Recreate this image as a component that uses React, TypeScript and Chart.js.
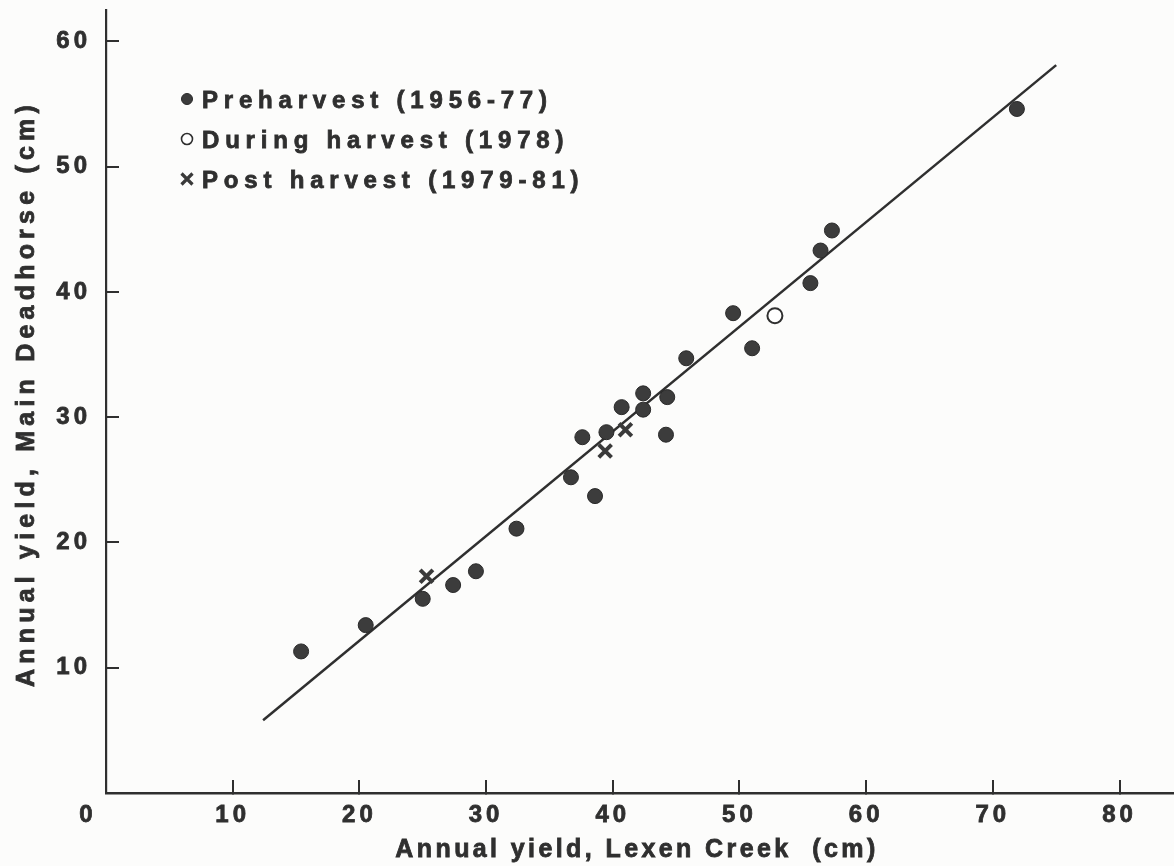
import React, { useEffect, useRef } from 'react';
import { Chart, registerables } from 'chart.js';

Chart.register(...registerables);

// ---- data ----
const preharvestX = [15.4, 20.5, 25.0, 27.4, 29.2, 32.4, 36.7, 37.6, 38.6, 39.5, 40.7, 42.4, 42.4, 44.3, 44.2, 45.8, 49.5, 51.0, 55.6, 56.4, 57.3, 71.9];
const preharvestY = [11.3, 13.4, 15.5, 16.6, 17.7, 21.1, 25.2, 28.4, 23.7, 28.8, 30.8, 31.9, 30.6, 31.6, 28.6, 34.7, 38.3, 35.5, 40.7, 43.3, 44.9, 54.6];

const duringX = [52.8];
const duringY = [38.1];

const postX = [25.3, 39.4, 41.0];
const postY = [17.3, 27.3, 29.0];

const fitLineX = [12.4, 75.0];
const fitLineY = [5.8, 58.1];

const seriesLabels = ['Preharvest (1956-77)', 'During harvest (1978)', 'Post harvest (1979-81)'];

const xTickValues = [10, 20, 30, 40, 50, 60, 70, 80];
const yTickValues = [10, 20, 30, 40, 50, 60];
const originLabel = '0';
const xTitle = 'Annual yield, Lexen Creek  (cm)';
const yTitle = 'Annual yield, Main Deadhorse (cm)';

const INK = '#2f2f2f';
const FONT = '"Liberation Sans", Arial, Helvetica, sans-serif';

const toPoints = (xs: number[], ys: number[]) => xs.map((x, i) => ({ x, y: ys[i] }));

function boldText(ctx: CanvasRenderingContext2D, text: string, x: number, y: number) {
  ctx.fillText(text, x, y);
  ctx.lineWidth = 0.8;
  ctx.strokeStyle = INK;
  ctx.strokeText(text, x, y);
}

function drawMarker(ctx: CanvasRenderingContext2D, ds: any, cx: number, cy: number) {
  ctx.save();
  const style = ds.pointStyle;
  if (style === 'crossRot') {
    const r = 5.5;
    ctx.strokeStyle = ds.borderColor;
    ctx.lineWidth = 3.2;
    ctx.beginPath();
    ctx.moveTo(cx - r, cy - r);
    ctx.lineTo(cx + r, cy + r);
    ctx.moveTo(cx + r, cy - r);
    ctx.lineTo(cx - r, cy + r);
    ctx.stroke();
  } else {
    ctx.beginPath();
    ctx.arc(cx, cy, 5.5, 0, Math.PI * 2);
    ctx.fillStyle = ds.backgroundColor;
    ctx.fill();
    ctx.strokeStyle = ds.borderColor;
    ctx.lineWidth = ds.backgroundColor === '#ffffff' ? 1.6 : 1;
    ctx.stroke();
  }
  ctx.restore();
}

export default function App() {
  const ref = useRef<HTMLCanvasElement>(null);

  useEffect(() => {
    const canvas = ref.current!;

    const decor = {
      id: 'decor',
      beforeDraw(chart: any) {
        const ctx = chart.ctx;
        ctx.save();
        ctx.fillStyle = '#fcfcfb';
        ctx.fillRect(0, 0, chart.width, chart.height);
        ctx.restore();
        ctx.letterSpacing = '4px';
      },
      afterDraw(chart: any) {
        const ctx = chart.ctx;
        const xs = chart.scales.x;
        const ys = chart.scales.y;
        ctx.save();
        ctx.fillStyle = INK;
        ctx.textAlign = 'center';
        ctx.textBaseline = 'middle';

        // origin label
        ctx.letterSpacing = '0px';
        ctx.font = `bold 24px ${FONT}`;
        boldText(ctx, originLabel, xs.left - 20, xs.top + 22);

        // x title
        ctx.letterSpacing = '3.4px';
        ctx.font = `bold 25px ${FONT}`;
        boldText(ctx, xTitle, (xs.left + xs.right) / 2 - 3, xs.top + 57);

        // y title
        ctx.save();
        ctx.letterSpacing = '5.2px';
        ctx.font = `bold 25px ${FONT}`;
        ctx.translate(27, (ys.top + ys.bottom) / 2 - 8);
        ctx.rotate(-Math.PI / 2);
        boldText(ctx, yTitle, 0, 0);
        ctx.restore();

        // legend
        const lx = chart.chartArea.left + 81;
        const ly0 = chart.chartArea.top + 90;
        ctx.letterSpacing = '5.8px';
        ctx.font = `bold 24px ${FONT}`;
        ctx.textAlign = 'left';
        chart.data.datasets.slice(0, 3).forEach((ds: any, i: number) => {
          const cy = ly0 + i * 40;
          drawMarker(ctx, ds, lx, cy - 1);
          ctx.fillStyle = INK;
          boldText(ctx, ds.label, lx + 15, cy + 1);
        });
        ctx.restore();
      },
    };

    const tickFont = { family: FONT, size: 24, weight: 'bold' as const };

    const chart = new Chart(canvas, {
      type: 'scatter',
      data: {
        datasets: [
          {
            label: seriesLabels[0],
            data: toPoints(preharvestX, preharvestY),
            pointStyle: 'circle',
            pointRadius: 7.5,
            backgroundColor: '#3c3c3c',
            borderColor: '#2a2a2a',
            borderWidth: 1,
            order: 1,
          },
          {
            label: seriesLabels[1],
            data: toPoints(duringX, duringY),
            pointStyle: 'circle',
            pointRadius: 7.5,
            backgroundColor: '#ffffff',
            borderColor: INK,
            borderWidth: 2,
            order: 1,
          },
          {
            label: seriesLabels[2],
            data: toPoints(postX, postY),
            pointStyle: 'crossRot',
            pointRadius: 9,
            backgroundColor: INK,
            borderColor: '#3a3a3a',
            borderWidth: 4,
            order: 1,
          },
          {
            label: 'Regression line',
            data: toPoints(fitLineX, fitLineY),
            showLine: true,
            pointRadius: 0,
            borderColor: INK,
            borderWidth: 2.5,
            backgroundColor: INK,
            order: 10,
          },
        ],
      },
      options: {
        responsive: false,
        animation: false,
        layout: { autoPadding: false, padding: { top: 10, left: 0, right: 0, bottom: 0 } },
        plugins: {
          legend: { display: false },
          tooltip: { enabled: false },
        },
        scales: {
          x: {
            type: 'linear',
            position: 'bottom',
            min: 0,
            max: 84.3,
            afterBuildTicks: (s: any) => {
              s.ticks = xTickValues.map((v) => ({ value: v }));
            },
            afterFit: (s: any) => {
              s.height = 73;
              s.paddingLeft = 0;
              s.paddingRight = 0;
              s.paddingTop = 0;
              s.paddingBottom = 0;
            },
            grid: {
              display: true,
              drawOnChartArea: false,
              drawTicks: true,
              tickLength: -13,
              color: INK,
              lineWidth: 2,
            },
            border: { display: true, color: INK, width: 2.5 },
            ticks: {
              color: INK,
              font: tickFont,
              padding: 21,
              maxRotation: 0,
              autoSkip: false,
              textStrokeColor: INK,
              textStrokeWidth: 0.8,
            },
          },
          y: {
            type: 'linear',
            position: 'left',
            min: 0,
            max: 62.5,
            afterBuildTicks: (s: any) => {
              s.ticks = yTickValues.map((v) => ({ value: v }));
            },
            afterFit: (s: any) => {
              s.width = 106;
              s.paddingLeft = 0;
              s.paddingRight = 0;
              s.paddingTop = 0;
              s.paddingBottom = 0;
            },
            grid: {
              display: true,
              drawOnChartArea: false,
              drawTicks: true,
              tickLength: -13,
              color: INK,
              lineWidth: 2,
            },
            border: { display: true, color: INK, width: 2.2 },
            ticks: {
              color: INK,
              font: tickFont,
              padding: 28,
              autoSkip: false,
              textStrokeColor: INK,
              textStrokeWidth: 0.8,
            },
          },
        },
      },
      plugins: [decor],
    });

    return () => chart.destroy();
  }, []);

  return (
    <canvas
      ref={ref}
      width={1174}
      height={866}
      style={{ position: 'fixed', left: 0, top: 0, display: 'block' }}
    />
  );
}
